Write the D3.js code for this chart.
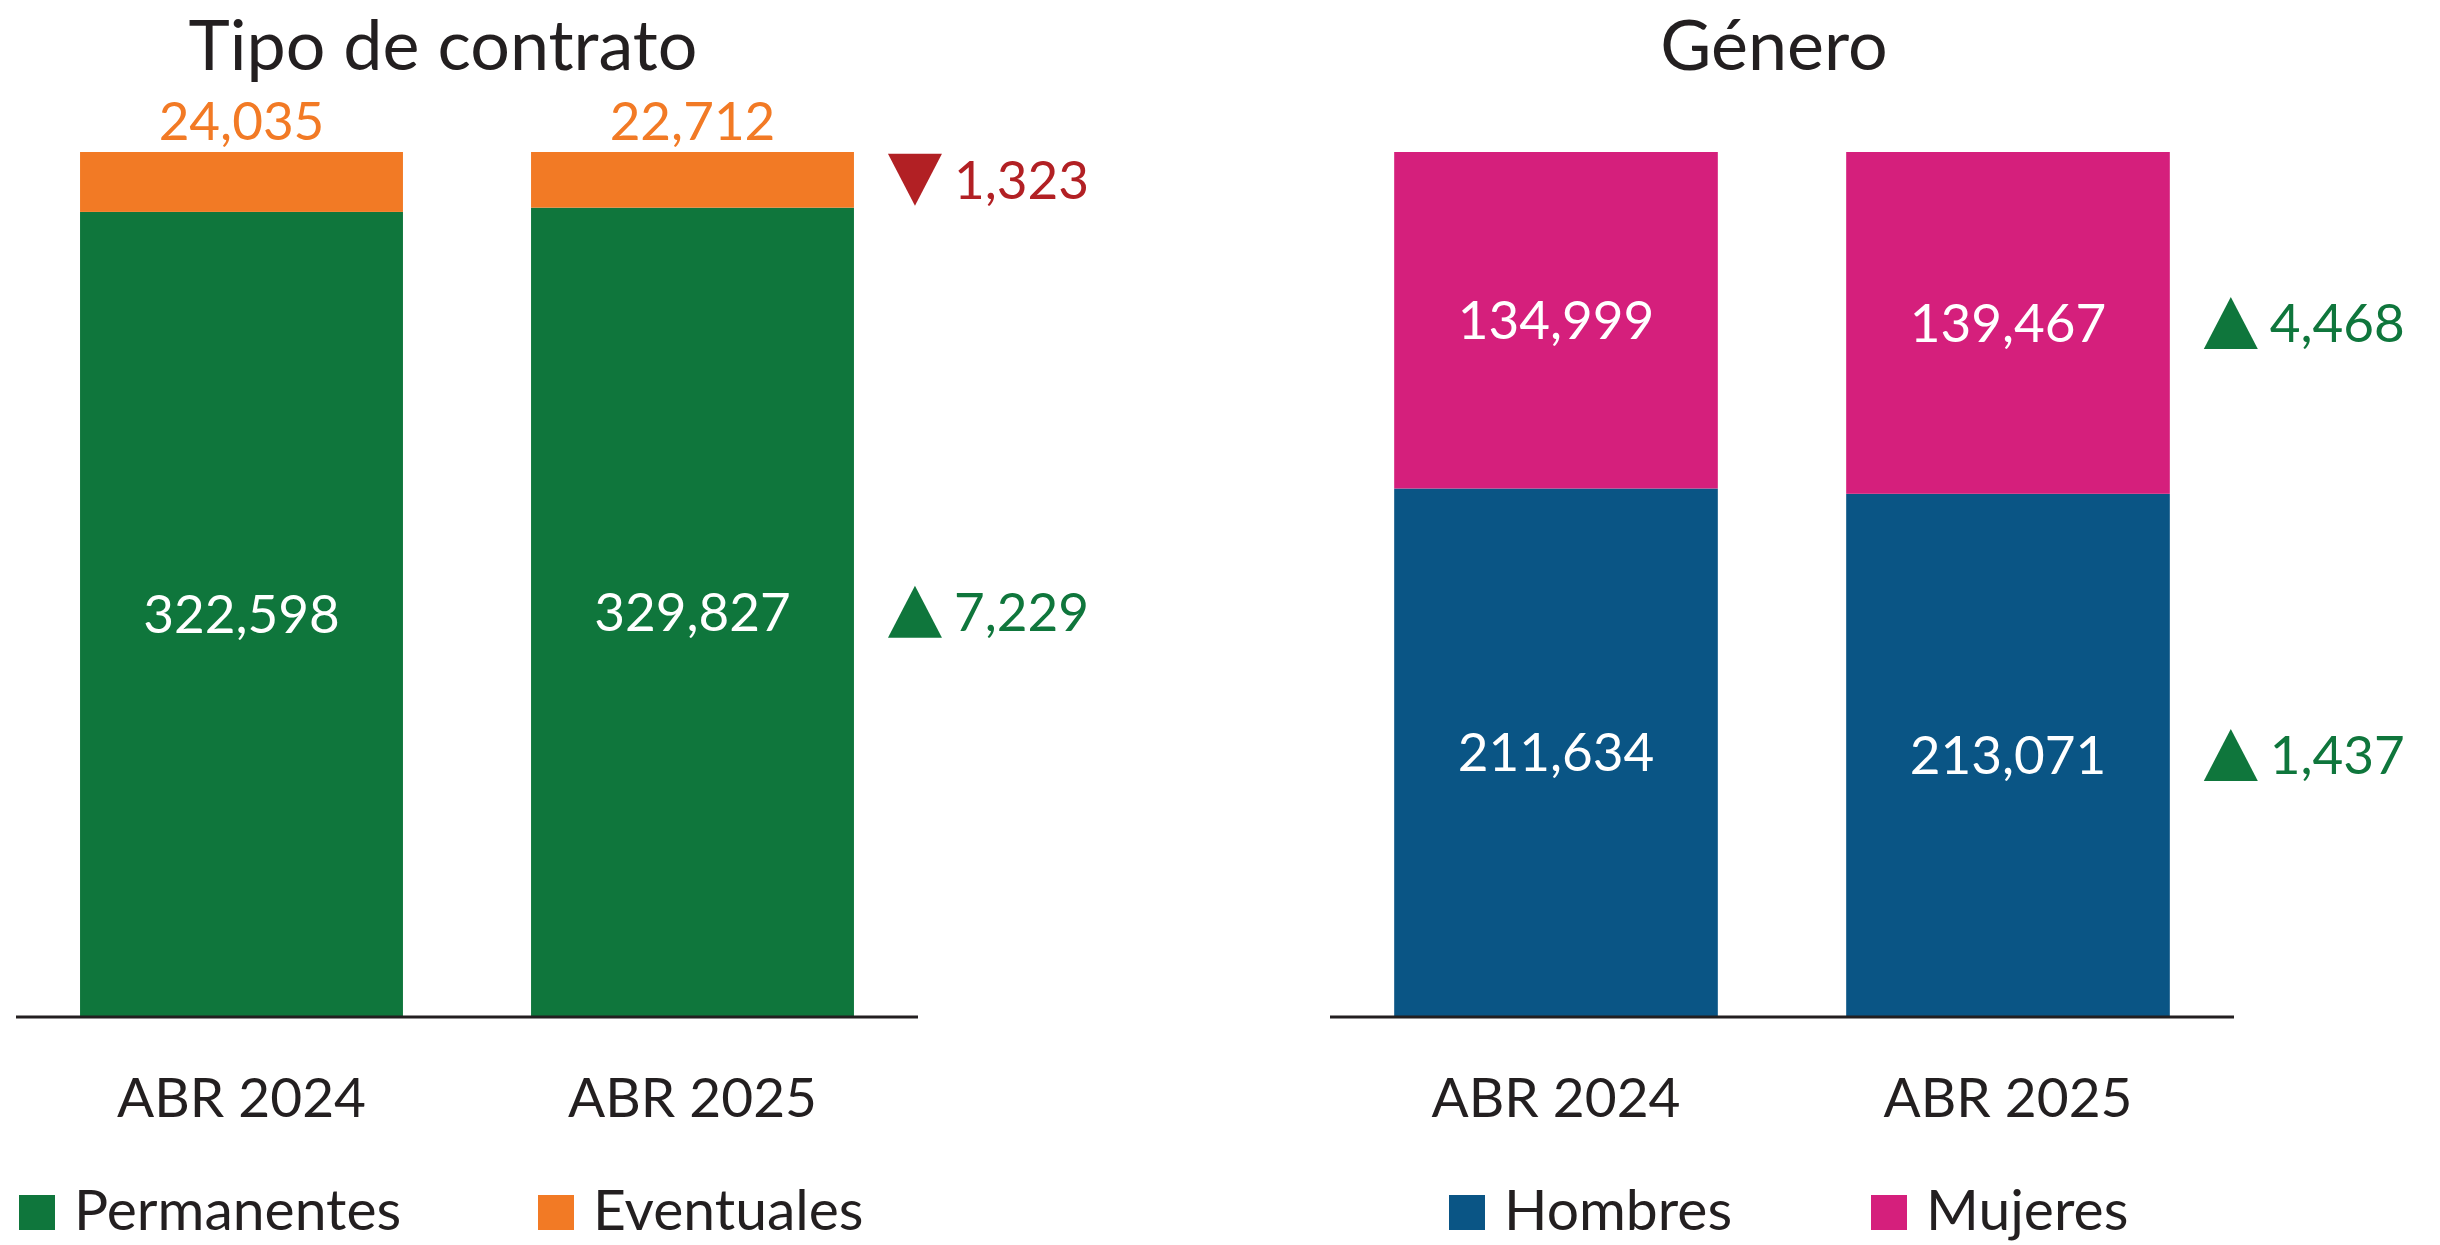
<!DOCTYPE html>
<html>
<head>
<meta charset="utf-8">
<script src="https://cdn.jsdelivr.net/npm/d3@7"></script>
<style>
  body { margin: 0; background: #fff; }
  svg { display: block; font-family: Lato, 'Open Sans', sans-serif; }
</style>
</head>
<body>
<svg id="chart" width="2440" height="1245"></svg>
<script>
const periods = ['ABR 2024', 'ABR 2025'];

const contractKeys = ['Permanentes', 'Eventuales'];
const permanentes = [322598, 329827];
const eventuales = [24035, 22712];

const genderKeys = ['Hombres', 'Mujeres'];
const hombres = [211634, 213071];
const mujeres = [134999, 139467];

const barTop = 152, barBase = 1016;
const ink = '#231F20';
const upColor = '#0F763C', downColor = '#B22024';
const fmt = d3.format(',');

const svg = d3.select('#chart');

const y = d3.scaleLinear().domain([0, 1]).range([barBase, barTop]);

function drawPanel(opts) {
  const { title, titleShift, keys, series, colors, range, legendX, labelAbove, labelColors } = opts;
  const g = svg.append('g');

  const rows = periods.map((p, i) => {
    const r = { period: p };
    keys.forEach((k, j) => { r[k] = series[j][i]; });
    return r;
  });

  const stacked = d3.stack().keys(keys).offset(d3.stackOffsetExpand)(rows);

  const x = d3.scaleBand()
    .domain(periods)
    .range(range)
    .paddingInner(0.284)
    .paddingOuter(0.142);

  const color = d3.scaleOrdinal().domain(keys).range(colors);

  // title
  g.append('text')
    .attr('x', (range[0] + range[1]) / 2 + titleShift)
    .attr('y', 70)
    .attr('text-anchor', 'middle')
    .attr('font-size', 70)
    .attr('fill', ink)
    .text(title);

  // bars
  const layer = g.selectAll('g.layer')
    .data(stacked)
    .enter()
    .append('g')
    .attr('class', 'layer')
    .attr('fill', d => color(d.key));

  layer.selectAll('rect')
    .data(d => d)
    .enter()
    .append('rect')
    .attr('x', d => x(d.data.period))
    .attr('y', d => y(d[1]))
    .attr('width', x.bandwidth())
    .attr('height', d => y(d[0]) - y(d[1]));

  // value labels
  stacked.forEach((s, j) => {
    g.selectAll(null)
      .data(s)
      .enter()
      .append('text')
      .attr('x', d => x(d.data.period) + x.bandwidth() / 2)
      .attr('y', d => labelAbove[j] ? y(d[1]) - 12 : (y(d[0]) + y(d[1])) / 2)
      .attr('dy', labelAbove[j] ? 0 : '0.36em')
      .attr('text-anchor', 'middle')
      .attr('font-size', 53)
      .attr('fill', labelColors[j])
      .text(d => fmt(d.data[s.key]));
  });

  // change markers, right of the last bar
  const last = periods[periods.length - 1];
  const xr = x(last) + x.bandwidth() + 34;
  stacked.forEach((s, j) => {
    const d = s[s.length - 1];
    const diff = series[j][1] - series[j][0];
    const cy = (y(d[0]) + y(d[1])) / 2;
    const up = diff >= 0;
    const tw = 54, th = 52;
    const p = d3.path();
    if (up) {
      p.moveTo(xr, cy + th / 2);
      p.lineTo(xr + tw / 2, cy - th / 2);
      p.lineTo(xr + tw, cy + th / 2);
    } else {
      p.moveTo(xr, cy - th / 2);
      p.lineTo(xr + tw, cy - th / 2);
      p.lineTo(xr + tw / 2, cy + th / 2);
    }
    p.closePath();
    g.append('path')
      .attr('d', p.toString())
      .attr('fill', up ? upColor : downColor);
    g.append('text')
      .attr('x', xr + tw + 12)
      .attr('y', cy)
      .attr('dy', '0.36em')
      .attr('font-size', 53)
      .attr('fill', up ? upColor : downColor)
      .text(fmt(Math.abs(diff)));
  });

  // baseline
  g.append('line')
    .attr('x1', range[0])
    .attr('x2', range[1])
    .attr('y1', barBase + 1)
    .attr('y2', barBase + 1)
    .attr('stroke', ink)
    .attr('stroke-width', 3);

  // category axis
  const axis = g.append('g')
    .attr('transform', `translate(0,${barBase})`)
    .call(d3.axisBottom(x).tickSize(0).tickPadding(101));
  axis.select('.domain').remove();
  axis.selectAll('text')
    .attr('font-size', 55)
    .attr('font-family', 'Lato, sans-serif')
    .attr('fill', ink)
    .attr('dy', 0);

  // legend
  const leg = g.selectAll('g.leg')
    .data(keys)
    .enter()
    .append('g')
    .attr('class', 'leg')
    .attr('transform', (d, i) => `translate(${range[0] + legendX[i]},1195)`);
  leg.append('rect')
    .attr('width', 36)
    .attr('height', 35)
    .attr('fill', d => color(d));
  leg.append('text')
    .attr('x', 55)
    .attr('y', 35)
    .attr('font-size', 57)
    .attr('fill', ink)
    .text(d => d);
}

drawPanel({
  title: 'Tipo de contrato',
  titleShift: -24,
  keys: contractKeys,
  series: [permanentes, eventuales],
  colors: ['#0F763C', '#F27A25'],
  labelAbove: [false, true],
  labelColors: ['#fff', '#F27A25'],
  range: [16, 918],
  legendX: [3, 522]
});

drawPanel({
  title: 'Género',
  titleShift: -8,
  keys: genderKeys,
  series: [hombres, mujeres],
  colors: ['#0A5585', '#D51F7C'],
  labelAbove: [false, false],
  labelColors: ['#fff', '#fff'],
  range: [1330, 2234],
  legendX: [119, 541]
});
</script>
</body>
</html>
